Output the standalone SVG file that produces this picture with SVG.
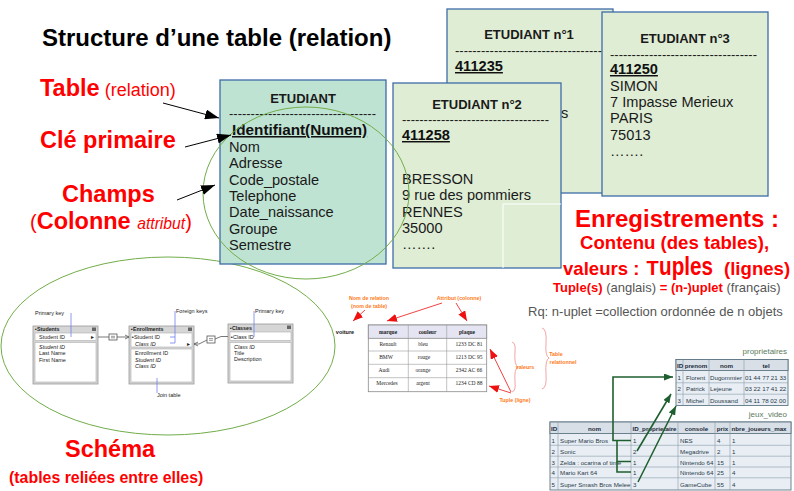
<svg xmlns="http://www.w3.org/2000/svg" width="794" height="491" viewBox="0 0 794 491">
<defs>
<style>
text { font-family: "Liberation Sans", Arial, sans-serif; }
.lbl { font-weight: bold; font-size: 23.5px; fill: #ff0000; }
.card { stroke: #3d6ca8; stroke-width: 1.3; }
.c0 { fill: #bfe3d3; }
.c1 { fill: #dfedd5; }
.hd { font-weight: bold; font-size: 13px; fill: #1a1a1a; text-anchor: middle; }
.dash { font-size: 13px; fill: #1a1a1a; }
.key { font-weight: bold; font-size: 14.6px; text-decoration: underline; fill: #111; }
.fld { font-size: 14.6px; fill: #1a1a1a; }
.rb { font-weight: bold; fill: #ff0000; }
.gr { fill: #555555; }
.ell { fill: none; stroke: #72ad4a; stroke-width: 1; }
.s5 { font-size: 5.5px; fill: #222; }
.s5i { font-size: 5.5px; fill: #222; font-style: italic; }
.s5b { font-size: 5.3px; fill: #222; font-weight: bold; }
.tb { fill: #d6d6d6; stroke: #9a9a9a; stroke-width: 0.8; }
.tw { fill: #ffffff; stroke: #b0b0b0; stroke-width: 0.6; }
.blue { stroke: #7080f0; stroke-width: 0.8; fill: none; }
.or { font-size: 5.3px; font-weight: bold; fill: #ff7a1a; text-anchor: middle; }
.ser { font-family: "Liberation Serif", "Times New Roman", serif; font-size: 5.5px; fill: #222; text-anchor: middle; }
.pt { font-size: 6.2px; fill: #2a3a4a; }
.pth { font-size: 6.2px; fill: #1a2a3a; font-weight: bold; }
.ttl { font-size: 8px; fill: #5b7a5b; }
.gline { stroke: #1f5f2f; stroke-width: 1.6; fill: none; }
</style>
<marker id="ab" viewBox="0 0 14 10" refX="14" refY="5" markerWidth="14" markerHeight="10" markerUnits="userSpaceOnUse" orient="auto">
<path d="M0,0 L14,5 L0,10 z" fill="#000"/>
</marker>
<marker id="ar" viewBox="0 0 10 8" refX="10" refY="4" markerWidth="10" markerHeight="8" markerUnits="userSpaceOnUse" orient="auto">
<path d="M0,0 L10,4 L0,8 z" fill="#ee1111"/>
</marker>
<marker id="ag" viewBox="0 0 9 7" refX="9" refY="3.5" markerWidth="9" markerHeight="7" markerUnits="userSpaceOnUse" orient="auto">
<path d="M0,0 L9,3.5 L0,7 z" fill="#1f5f2f"/>
</marker>
</defs>

<rect width="794" height="491" fill="#ffffff"/>

<g id="title">
<text x="42" y="46" font-size="24" font-weight="bold" fill="#000">Structure d’une table (relation)</text>
</g>
<g id="label-table">
<text x="40" y="96"><tspan class="lbl">Table</tspan><tspan font-size="18" fill="#ff0000"> (relation)</tspan></text>
</g>
<g id="label-cle">
<text x="40" y="148" class="lbl">Clé primaire</text>
</g>
<g id="label-champs">
<text x="62" y="202" class="lbl">Champs</text>
<text x="30" y="229"><tspan font-size="20" fill="#ff0000">(</tspan><tspan class="lbl">Colonne </tspan><tspan font-size="15.7" font-style="italic" fill="#ff0000">attribut</tspan><tspan font-size="20" fill="#ff0000">)</tspan></text>
</g>

<ellipse class="ell" cx="168" cy="346" rx="167" ry="89"/>

<g id="etudiant-1">
<rect class="card c1" x="447" y="9" width="166" height="184"/>
<text class="hd" x="529" y="39">ETUDIANT n°1</text>
<text class="dash" x="455" y="55" textLength="147" lengthAdjust="spacing">----------------------------------</text>
<text class="key" x="455" y="71">411235</text>
<text class="fld" x="561" y="118">s</text>
</g>
<g id="etudiant-3">
<rect class="card c1" x="602" y="12" width="166" height="184"/>
<text class="hd" x="685" y="43">ETUDIANT n°3</text>
<text class="dash" x="610" y="58.5" textLength="147" lengthAdjust="spacing">----------------------------------</text>
<text class="key" x="610" y="74">411250</text>
<text class="fld" x="610" y="91">SIMON</text>
<text class="fld" x="610" y="107">7 Impasse Merieux</text>
<text class="fld" x="610" y="123">PARIS</text>
<text class="fld" x="610" y="139.5">75013</text>
<text class="fld" x="610" y="156">…….</text>
</g>
<g id="etudiant-2">
<rect class="card c1" x="393" y="83" width="168" height="185"/>
<line x1="503" y1="204" x2="561" y2="204" stroke="#ffffff" stroke-width="1"/>
<line x1="503" y1="204" x2="503" y2="268" stroke="#ffffff" stroke-width="1"/>
<text class="hd" x="477" y="109">ETUDIANT n°2</text>
<text class="dash" x="402" y="124" textLength="147" lengthAdjust="spacing">----------------------------------</text>
<text class="key" x="402" y="140">411258</text>
<text class="fld" x="402" y="184">BRESSON</text>
<text class="fld" x="402" y="200">9 rue des pommiers</text>
<text class="fld" x="402" y="216.5">RENNES</text>
<text class="fld" x="402" y="233">35000</text>
<text class="fld" x="402" y="249">…….</text>
</g>
<g id="etudiant">
<rect class="card c0" x="220" y="80" width="166" height="184"/>
<text class="hd" x="303" y="102.5">ETUDIANT</text>
<text class="dash" x="229" y="118" textLength="147" lengthAdjust="spacing">----------------------------------</text>
<text x="232" y="135" font-size="15.3" font-weight="bold" text-decoration="underline" fill="#111">Identifiant(Numen)</text>
<text class="fld" x="229" y="152">Nom</text>
<text class="fld" x="229" y="168.3">Adresse</text>
<text class="fld" x="229" y="184.6">Code_postale</text>
<text class="fld" x="229" y="200.9">Telephone</text>
<text class="fld" x="229" y="217.2">Date_naissance</text>
<text class="fld" x="229" y="233.5">Groupe</text>
<text class="fld" x="229" y="249.8">Semestre</text>
</g>
<ellipse class="ell" cx="306" cy="193" rx="103" ry="86"/>

<g id="connectors">
<line x1="163" y1="103" x2="219" y2="118" stroke="#000" stroke-width="1" marker-end="url(#ab)"/>
<line x1="185" y1="147" x2="231" y2="135" stroke="#000" stroke-width="1" marker-end="url(#ab)"/>
<line x1="177" y1="200" x2="215" y2="185" stroke="#000" stroke-width="1" marker-end="url(#ab)"/>
</g>

<g id="enregistrements">
<text x="575" y="227" font-size="24" class="rb">Enregistrements :</text>
<text x="580" y="248.5" font-size="18.6" class="rb">Contenu (des tables),</text>
<text x="563" y="275" font-size="18.6" class="rb">valeurs :</text>
<text x="646.5" y="275" font-size="20" class="rb">T</text>
<text x="659" y="275" font-size="26" class="rb" textLength="54" lengthAdjust="spacingAndGlyphs">uples</text>
<text x="724" y="275" font-size="18.6" class="rb">(lignes)</text>
<text x="553" y="292" font-size="13"><tspan class="rb">Tuple(s)</tspan><tspan class="gr"> (anglais) </tspan><tspan class="rb">= (n-)uplet</tspan><tspan class="gr"> (français)</tspan></text>
<text x="528" y="316" font-size="13" class="gr">Rq: n-uplet =collection ordonnée de n objets</text>
</g>

<g id="schema">
<rect class="tb" x="33" y="326" width="65" height="58"/>
<text class="s5b" x="35" y="331">▪Students</text>
<rect x="92" y="327.5" width="4" height="3.5" fill="#666"/>
<rect class="tw" x="35" y="333" width="61" height="7.5"/>
<text class="s5" x="39" y="339">Student ID</text>
<text class="s5" x="91" y="339">▸</text>
<rect class="tw" x="35" y="342.5" width="61" height="39.5"/>
<text class="s5i" x="39" y="349">Student ID</text>
<text class="s5" x="39" y="355">Last Name</text>
<text class="s5" x="39" y="361.5">First Name</text>

<rect class="tb" x="129" y="326" width="65" height="58"/>
<text class="s5b" x="131" y="331">▪Enrollments</text>
<rect x="188" y="327.5" width="4" height="3.5" fill="#666"/>
<rect class="tw" x="131" y="333" width="61" height="14"/>
<text class="s5" x="132" y="339">▪Student ID</text>
<text class="s5i" x="135" y="345.5">Class ID</text>
<text class="s5" x="187" y="345.5">▸</text>
<rect class="tw" x="131" y="349" width="61" height="33"/>
<text class="s5" x="135" y="355">Enrollment ID</text>
<text class="s5i" x="135" y="361.5">Student ID</text>
<text class="s5i" x="135" y="368">Class ID</text>

<rect class="tb" x="228" y="324" width="65" height="59"/>
<text class="s5b" x="230" y="329.5">▪Classes</text>
<rect x="287" y="325.5" width="4" height="3.5" fill="#666"/>
<rect class="tw" x="230" y="332" width="61" height="8.5"/>
<text class="s5" x="231" y="338.5">▪Class ID</text>
<rect class="tw" x="230" y="342.5" width="61" height="38.5"/>
<text class="s5i" x="234" y="348.5">Class ID</text>
<text class="s5" x="234" y="354.5">Title</text>
<text class="s5" x="234" y="361">Description</text>

<path d="M98,337 H109 M117,337 H129 M125,335 L129,337 L125,339" stroke="#555" stroke-width="0.8" fill="none"/>
<rect x="109" y="334" width="8" height="6" fill="#fff" stroke="#555" stroke-width="0.8"/>
<path d="M111,336.3 H115 M111,337.8 H115" stroke="#555" stroke-width="0.6"/>
<path d="M194,344 L199,344 L207,340 M215,339 L221,336.5 H228 M198,342 L194,344 L198,346" stroke="#555" stroke-width="0.8" fill="none"/>
<rect x="207" y="336" width="8" height="7" fill="#fff" stroke="#555" stroke-width="0.8"/>
<path d="M209,338.6 H213 M209,340.3 H213" stroke="#555" stroke-width="0.6"/>

<text class="s5" x="35" y="315">Primary key</text>
<line class="blue" x1="71" y1="313" x2="71" y2="337"/>
<text class="s5" x="176" y="313">Foreign keys</text>
<path class="blue" d="M175,311 V343 M170,337 H175 M170,343 H175"/>
<text class="s5" x="255" y="313">Primary key</text>
<line class="blue" x1="254" y1="311" x2="254" y2="337"/>
<line class="blue" x1="157" y1="378" x2="157" y2="393"/>
<text class="s5" x="157" y="397">Join table</text>
</g>

<g id="voiture">
<text class="or" x="369" y="300">Nom de relation</text>
<text class="or" x="369" y="307.5">(nom de table)</text>
<line x1="365" y1="310" x2="353" y2="321" stroke="#ee1111" stroke-width="0.8" marker-end="url(#ar)"/>
<text x="345" y="334" font-family="Liberation Serif, serif" font-size="5.5" font-weight="bold" fill="#111" text-anchor="middle">voiture</text>
<text class="or" x="459" y="300">Attribut (colonne)</text>
<line x1="442" y1="303" x2="387" y2="321" stroke="#ee1111" stroke-width="0.8" marker-end="url(#ar)"/>
<line x1="456" y1="303" x2="467" y2="321" stroke="#ee1111" stroke-width="0.8" marker-end="url(#ar)"/>
<rect x="368.3" y="325" width="118.4" height="66.7" fill="#ffffff" stroke="#8a8a8a" stroke-width="0.8"/>
<rect x="368.3" y="325" width="118.4" height="13.3" fill="#e4e4f2" stroke="#8a8a8a" stroke-width="0.8"/>
<path d="M408.3,325 V391.7 M446.7,325 V391.7 M368.3,351 H486.7 M368.3,364.3 H486.7 M368.3,377.7 H486.7" stroke="#9a9a9a" stroke-width="0.6"/>
<text class="ser" x="388" y="334" font-weight="bold">marque</text>
<text class="ser" x="427.5" y="334" font-weight="bold">couleur</text>
<text class="ser" x="467" y="334" font-weight="bold">plaque</text>
<text class="ser" x="388" y="346">Renault</text>
<text class="ser" x="423" y="346">bleu</text>
<text class="ser" x="469" y="346">1233 DC 81</text>
<text class="ser" x="386" y="359">BMW</text>
<text class="ser" x="424" y="359">rouge</text>
<text class="ser" x="469" y="359">1213 DC 95</text>
<text class="ser" x="384" y="372">Audi</text>
<text class="ser" x="423" y="372">orange</text>
<text class="ser" x="469" y="372">2342 AC 66</text>
<text class="ser" x="387" y="385">Mercedes</text>
<text class="ser" x="423" y="385">argent</text>
<text class="ser" x="469" y="385">1234 CD 88</text>
<line x1="511" y1="392" x2="490" y2="349" stroke="#ee1111" stroke-width="0.8" marker-end="url(#ar)"/>
<line x1="511" y1="393" x2="489" y2="386" stroke="#ee1111" stroke-width="0.8" marker-end="url(#ar)"/>
<path d="M512,342 Q516,343 515,352 Q514,365 518,367 Q514,369 515,382 Q516,391 512,392" stroke="#f39a9a" stroke-width="0.9" fill="none"/>
<text class="or" x="525" y="369">valeurs</text>
<text class="or" x="515" y="402">Tuple (ligne)</text>
<path d="M542,328 Q547,329 546,343 Q545,356 549,358 Q545,360 546,374 Q547,388 542,389" stroke="#f39a9a" stroke-width="0.9" fill="none"/>
<text class="or" x="556" y="355.5">Table</text>
<text class="or" x="563" y="363.5">relationnel</text>
</g>

<g id="proprietaires">
<text class="ttl" x="787" y="354" text-anchor="end">proprietaires</text>
<rect x="676" y="359.5" width="112" height="46" fill="#e8eef4" stroke="#5f7585" stroke-width="0.9"/>
<rect x="676" y="359.5" width="112" height="11" fill="#d8dfe6" stroke="#5f7585" stroke-width="0.9"/>
<path d="M683,359.5 V405.5 M709,359.5 V405.5 M744,359.5 V405.5 M676,382.8 H788 M676,394.2 H788" stroke="#8a9aaa" stroke-width="0.6"/>
<text class="pth" x="677" y="367.5">ID</text>
<text class="pth" x="696" y="367.5" text-anchor="middle">prenom</text>
<text class="pth" x="726.5" y="367.5" text-anchor="middle">nom</text>
<text class="pth" x="766" y="367.5" text-anchor="middle">tel</text>
<text class="pt" x="677.5" y="380">1</text><text class="pt" x="686" y="380">Florent</text><text class="pt" x="710" y="380">Dugommier</text><text class="pt" x="745" y="380">01 44 77 21 33</text>
<text class="pt" x="677.5" y="391">2</text><text class="pt" x="686" y="391">Patrick</text><text class="pt" x="710" y="391">Lejeune</text><text class="pt" x="745" y="391">03 22 17 41 22</text>
<text class="pt" x="677.5" y="402.5">3</text><text class="pt" x="686" y="402.5">Michel</text><text class="pt" x="710" y="402.5">Doussand</text><text class="pt" x="745" y="402.5">04 11 78 02 00</text>
</g>
<g id="jeux_video">
<text class="ttl" x="787" y="417" text-anchor="end">jeux_video</text>
<rect x="550" y="422" width="241" height="68" fill="#e8eef4" stroke="#5f7585" stroke-width="0.9"/>
<rect x="550" y="422" width="241" height="11.5" fill="#d8dfe6" stroke="#5f7585" stroke-width="0.9"/>
<path d="M558,422 V490 M631,422 V490 M678,422 V490 M715,422 V490 M730,422 V490 M550,445.3 H791 M550,456.2 H791 M550,467 H791 M550,477.8 H791" stroke="#8a9aaa" stroke-width="0.6"/>
<text class="pth" x="551" y="430.5">ID</text>
<text class="pth" x="594.5" y="430.5" text-anchor="middle">nom</text>
<text class="pth" x="654.5" y="430.5" text-anchor="middle">ID_proprietaire</text>
<text class="pth" x="696.5" y="430.5" text-anchor="middle">console</text>
<text class="pth" x="722.5" y="430.5" text-anchor="middle">prix</text>
<text class="pth" x="731.5" y="430.5">nbre_joueurs_max</text>
<text class="pt" x="551.5" y="442.5">1</text><text class="pt" x="560" y="442.5">Super Mario Bros</text><text class="pt" x="633" y="442.5">1</text><text class="pt" x="680" y="442.5">NES</text><text class="pt" x="717" y="442.5">4</text><text class="pt" x="732" y="442.5">1</text>
<text class="pt" x="551.5" y="453.5">2</text><text class="pt" x="560" y="453.5">Sonic</text><text class="pt" x="633" y="453.5">2</text><text class="pt" x="680" y="453.5">Megadrive</text><text class="pt" x="717" y="453.5">2</text><text class="pt" x="732" y="453.5">1</text>
<text class="pt" x="551.5" y="464.5">3</text><text class="pt" x="560" y="464.5">Zelda : ocarina of time</text><text class="pt" x="633" y="464.5">1</text><text class="pt" x="680" y="464.5">Nintendo 64</text><text class="pt" x="717" y="464.5">15</text><text class="pt" x="732" y="464.5">1</text>
<text class="pt" x="551.5" y="475.3">4</text><text class="pt" x="560" y="475.3">Mario Kart 64</text><text class="pt" x="633" y="475.3">1</text><text class="pt" x="680" y="475.3">Nintendo 64</text><text class="pt" x="717" y="475.3">25</text><text class="pt" x="732" y="475.3">4</text>
<text class="pt" x="551.5" y="486.5">5</text><text class="pt" x="560" y="486.5">Super Smash Bros Melee</text><text class="pt" x="633" y="486.5">3</text><text class="pt" x="680" y="486.5">GameCube</text><text class="pt" x="717" y="486.5">55</text><text class="pt" x="732" y="486.5">4</text>
</g>
<g id="fk-arrows">
<path class="gline" d="M631,440.5 H613 V377 H673" marker-end="url(#ag)"/>
<path class="gline" d="M631,461.5 H617 V440.5"/>
<path class="gline" d="M631,472 H617 V461.5"/>
<line class="gline" x1="637" y1="451" x2="671" y2="394" marker-end="url(#ag)"/>
<line class="gline" x1="638" y1="482" x2="676" y2="406" marker-end="url(#ag)"/>
</g>

<g id="schema-caption">
<text x="65" y="457" class="lbl">Schéma</text>
<text x="9" y="483" font-size="15.9" class="rb">(tables reliées entre elles)</text>
</g>
</svg>
